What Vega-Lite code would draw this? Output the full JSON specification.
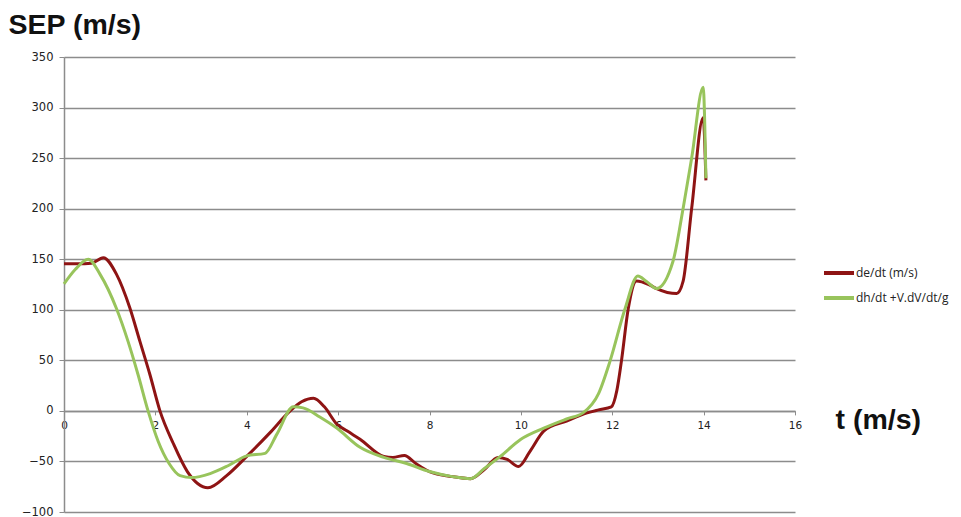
{
  "$schema": "https://vega.github.io/schema/vega-lite/v6.json",
  "width": 731,
  "height": 455,
  "padding": {"left": 8, "top": 10, "right": 5, "bottom": 5},
  "background": "white",
  "config": {"view": {"stroke": null}},
  "data": {
    "values": [
      {"i": 1, "series": "de/dt (m/s)", "t": 0, "v": 145.5},
      {"i": 2, "series": "de/dt (m/s)", "t": 0.3, "v": 145.5},
      {"i": 3, "series": "de/dt (m/s)", "t": 0.6, "v": 146},
      {"i": 4, "series": "de/dt (m/s)", "t": 0.86, "v": 151.5},
      {"i": 5, "series": "de/dt (m/s)", "t": 1.15, "v": 135},
      {"i": 6, "series": "de/dt (m/s)", "t": 1.44, "v": 102},
      {"i": 7, "series": "de/dt (m/s)", "t": 1.66, "v": 69},
      {"i": 8, "series": "de/dt (m/s)", "t": 1.88, "v": 36},
      {"i": 9, "series": "de/dt (m/s)", "t": 2.1, "v": 0},
      {"i": 10, "series": "de/dt (m/s)", "t": 2.39, "v": -32},
      {"i": 11, "series": "de/dt (m/s)", "t": 2.7, "v": -60},
      {"i": 12, "series": "de/dt (m/s)", "t": 3.15, "v": -76},
      {"i": 13, "series": "de/dt (m/s)", "t": 3.56, "v": -64},
      {"i": 14, "series": "de/dt (m/s)", "t": 4.0, "v": -45},
      {"i": 15, "series": "de/dt (m/s)", "t": 4.5, "v": -22},
      {"i": 16, "series": "de/dt (m/s)", "t": 4.95, "v": 0},
      {"i": 17, "series": "de/dt (m/s)", "t": 5.2, "v": 9},
      {"i": 18, "series": "de/dt (m/s)", "t": 5.46, "v": 12.5},
      {"i": 19, "series": "de/dt (m/s)", "t": 5.7, "v": 4},
      {"i": 20, "series": "de/dt (m/s)", "t": 5.97, "v": -13},
      {"i": 21, "series": "de/dt (m/s)", "t": 6.2, "v": -20},
      {"i": 22, "series": "de/dt (m/s)", "t": 6.48, "v": -28},
      {"i": 23, "series": "de/dt (m/s)", "t": 7.0, "v": -45},
      {"i": 24, "series": "de/dt (m/s)", "t": 7.2, "v": -46},
      {"i": 25, "series": "de/dt (m/s)", "t": 7.45, "v": -44},
      {"i": 26, "series": "de/dt (m/s)", "t": 7.7, "v": -52},
      {"i": 27, "series": "de/dt (m/s)", "t": 8.0, "v": -60},
      {"i": 28, "series": "de/dt (m/s)", "t": 8.5, "v": -65},
      {"i": 29, "series": "de/dt (m/s)", "t": 8.9, "v": -67},
      {"i": 30, "series": "de/dt (m/s)", "t": 9.2, "v": -58},
      {"i": 31, "series": "de/dt (m/s)", "t": 9.5, "v": -46},
      {"i": 32, "series": "de/dt (m/s)", "t": 9.7, "v": -48},
      {"i": 33, "series": "de/dt (m/s)", "t": 9.95, "v": -55},
      {"i": 34, "series": "de/dt (m/s)", "t": 10.2, "v": -40},
      {"i": 35, "series": "de/dt (m/s)", "t": 10.5, "v": -20},
      {"i": 36, "series": "de/dt (m/s)", "t": 11.0, "v": -10},
      {"i": 37, "series": "de/dt (m/s)", "t": 11.45, "v": -2},
      {"i": 38, "series": "de/dt (m/s)", "t": 11.7, "v": 1},
      {"i": 39, "series": "de/dt (m/s)", "t": 11.98, "v": 4},
      {"i": 40, "series": "de/dt (m/s)", "t": 12.1, "v": 20},
      {"i": 41, "series": "de/dt (m/s)", "t": 12.2, "v": 49},
      {"i": 42, "series": "de/dt (m/s)", "t": 12.35, "v": 101},
      {"i": 43, "series": "de/dt (m/s)", "t": 12.53, "v": 128.5},
      {"i": 44, "series": "de/dt (m/s)", "t": 12.8, "v": 125},
      {"i": 45, "series": "de/dt (m/s)", "t": 12.97, "v": 121},
      {"i": 46, "series": "de/dt (m/s)", "t": 13.41, "v": 116},
      {"i": 47, "series": "de/dt (m/s)", "t": 13.55, "v": 128},
      {"i": 48, "series": "de/dt (m/s)", "t": 13.74, "v": 201},
      {"i": 49, "series": "de/dt (m/s)", "t": 13.99, "v": 290},
      {"i": 50, "series": "de/dt (m/s)", "t": 14.05, "v": 228},
      {"i": 101, "series": "dh/dt +V.dV/dt/g", "t": 0, "v": 125.5},
      {"i": 102, "series": "dh/dt +V.dV/dt/g", "t": 0.25, "v": 140},
      {"i": 103, "series": "dh/dt +V.dV/dt/g", "t": 0.53, "v": 150},
      {"i": 104, "series": "dh/dt +V.dV/dt/g", "t": 0.79, "v": 135},
      {"i": 105, "series": "dh/dt +V.dV/dt/g", "t": 1.15, "v": 101},
      {"i": 106, "series": "dh/dt +V.dV/dt/g", "t": 1.4, "v": 69},
      {"i": 107, "series": "dh/dt +V.dV/dt/g", "t": 1.62, "v": 36},
      {"i": 108, "series": "dh/dt +V.dV/dt/g", "t": 1.84, "v": 0},
      {"i": 109, "series": "dh/dt +V.dV/dt/g", "t": 2.06, "v": -30},
      {"i": 110, "series": "dh/dt +V.dV/dt/g", "t": 2.3, "v": -52},
      {"i": 111, "series": "dh/dt +V.dV/dt/g", "t": 2.54, "v": -64},
      {"i": 112, "series": "dh/dt +V.dV/dt/g", "t": 2.8, "v": -66},
      {"i": 113, "series": "dh/dt +V.dV/dt/g", "t": 3.2, "v": -62},
      {"i": 114, "series": "dh/dt +V.dV/dt/g", "t": 3.6, "v": -54},
      {"i": 115, "series": "dh/dt +V.dV/dt/g", "t": 4.0, "v": -44.5},
      {"i": 116, "series": "dh/dt +V.dV/dt/g", "t": 4.4, "v": -42},
      {"i": 117, "series": "dh/dt +V.dV/dt/g", "t": 4.66, "v": -23},
      {"i": 118, "series": "dh/dt +V.dV/dt/g", "t": 5.02, "v": 4},
      {"i": 119, "series": "dh/dt +V.dV/dt/g", "t": 5.23, "v": 3},
      {"i": 120, "series": "dh/dt +V.dV/dt/g", "t": 5.6, "v": -6},
      {"i": 121, "series": "dh/dt +V.dV/dt/g", "t": 5.97, "v": -17},
      {"i": 122, "series": "dh/dt +V.dV/dt/g", "t": 6.48, "v": -36},
      {"i": 123, "series": "dh/dt +V.dV/dt/g", "t": 7.0, "v": -46},
      {"i": 124, "series": "dh/dt +V.dV/dt/g", "t": 7.5, "v": -52},
      {"i": 125, "series": "dh/dt +V.dV/dt/g", "t": 8.0, "v": -60},
      {"i": 126, "series": "dh/dt +V.dV/dt/g", "t": 8.5, "v": -65},
      {"i": 127, "series": "dh/dt +V.dV/dt/g", "t": 8.9, "v": -67},
      {"i": 128, "series": "dh/dt +V.dV/dt/g", "t": 9.2, "v": -57},
      {"i": 129, "series": "dh/dt +V.dV/dt/g", "t": 9.55, "v": -45},
      {"i": 130, "series": "dh/dt +V.dV/dt/g", "t": 10.0, "v": -28},
      {"i": 131, "series": "dh/dt +V.dV/dt/g", "t": 10.5, "v": -17},
      {"i": 132, "series": "dh/dt +V.dV/dt/g", "t": 11.0, "v": -8},
      {"i": 133, "series": "dh/dt +V.dV/dt/g", "t": 11.36, "v": -2},
      {"i": 134, "series": "dh/dt +V.dV/dt/g", "t": 11.7, "v": 17},
      {"i": 135, "series": "dh/dt +V.dV/dt/g", "t": 11.95, "v": 49},
      {"i": 136, "series": "dh/dt +V.dV/dt/g", "t": 12.28, "v": 101},
      {"i": 137, "series": "dh/dt +V.dV/dt/g", "t": 12.56, "v": 133.5},
      {"i": 138, "series": "dh/dt +V.dV/dt/g", "t": 12.75, "v": 128},
      {"i": 139, "series": "dh/dt +V.dV/dt/g", "t": 12.97, "v": 121},
      {"i": 140, "series": "dh/dt +V.dV/dt/g", "t": 13.33, "v": 148},
      {"i": 141, "series": "dh/dt +V.dV/dt/g", "t": 13.55, "v": 200},
      {"i": 142, "series": "dh/dt +V.dV/dt/g", "t": 13.74, "v": 250.5},
      {"i": 143, "series": "dh/dt +V.dV/dt/g", "t": 13.99, "v": 320},
      {"i": 144, "series": "dh/dt +V.dV/dt/g", "t": 14.05, "v": 230}
    ]
  },
  "mark": {"type": "line", "interpolate": "monotone", "strokeWidth": 3},
  "encoding": {
    "x": {
      "field": "t",
      "type": "quantitative",
      "scale": {"domain": [0, 16], "nice": false, "zero": false},
      "axis": {
        "values": [0, 2, 4, 6, 8, 10, 12, 14, 16],
        "grid": false,
        "offset": {"expr": "scale('y', 0) - height"},
        "domainColor": "#8c8c8c",
        "domainWidth": 1.5,
        "tickColor": "#8c8c8c",
        "tickSize": 4,
        "labelPadding": 6,
        "labelFlush": false,
        "labelOverlap": false,
        "labelFont": "DejaVu Sans",
        "labelFontSize": 10.5,
        "labelColor": "#222222",
        "title": "t (m/s)",
        "titleX": 771,
        "titleY": 18,
        "titleAlign": "left",
        "titleBaseline": "alphabetic",
        "titleFont": "Liberation Sans",
        "titleFontSize": 28.5,
        "titleFontWeight": "bold",
        "titleColor": "#111111"
      }
    },
    "y": {
      "field": "v",
      "type": "quantitative",
      "scale": {"domain": [-100, 350], "nice": false, "zero": false},
      "axis": {
        "values": [-100, -50, 0, 50, 100, 150, 200, 250, 300, 350],
        "grid": true,
        "gridColor": "#8c8c8c",
        "gridWidth": 1.5,
        "domainColor": "#8c8c8c",
        "domainWidth": 1.5,
        "tickColor": "#8c8c8c",
        "tickSize": 5,
        "labelPadding": 6,
        "labelOverlap": false,
        "labelFont": "DejaVu Sans",
        "labelFontSize": 11.5,
        "labelColor": "#222222",
        "title": "SEP (m/s)",
        "titleAngle": 0,
        "titleX": -56,
        "titleY": -24,
        "titleAlign": "left",
        "titleBaseline": "alphabetic",
        "titleFont": "Liberation Sans",
        "titleFontSize": 28.5,
        "titleFontWeight": "bold",
        "titleColor": "#111111"
      }
    },
    "color": {
      "field": "series",
      "type": "nominal",
      "scale": {"domain": ["de/dt (m/s)", "dh/dt +V.dV/dt/g"], "range": ["#8E1414", "#98C45C"]},
      "legend": {
        "title": null,
        "orient": "none",
        "legendX": 758,
        "legendY": 199,
        "padding": 0,
        "symbolType": "stroke",
        "symbolSize": 900,
        "symbolStrokeWidth": 4,
        "rowPadding": -5,
        "labelOffset": 0,
        "labelFont": "Open Sans",
        "labelFontSize": 12,
        "labelColor": "#222222"
      }
    },
    "order": {"field": "i"}
  }
}
